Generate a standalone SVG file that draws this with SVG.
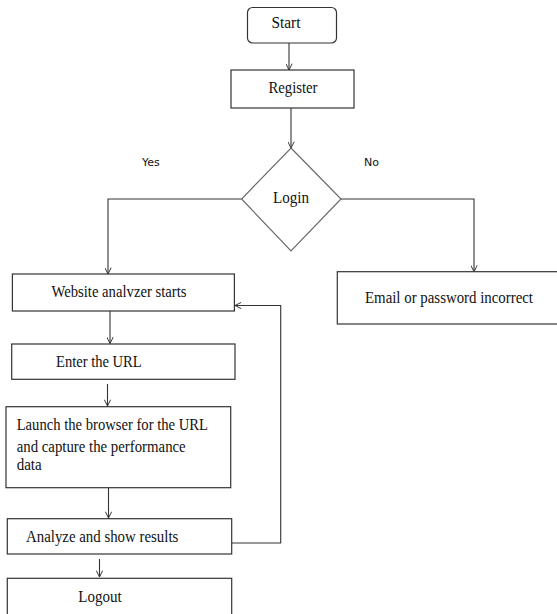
<svg xmlns="http://www.w3.org/2000/svg" width="557" height="614" viewBox="0 0 557 614">
<defs>
<marker id="vee" viewBox="0 0 10 10" refX="10" refY="5" markerWidth="7" markerHeight="7" markerUnits="userSpaceOnUse" orient="auto">
<path d="M1,0.5 L10,5 L1,9.5" fill="none" stroke="#333" stroke-width="1.4"/>
</marker>
</defs>
<style>
.box{fill:#fff;stroke:#333;stroke-width:1.2}
.dia{fill:#fff;stroke:#6a6a6a;stroke-width:1.2}
.t{font-family:'Liberation Serif','Times New Roman','DejaVu Serif',serif;font-size:16px;fill:#111}
.lab{font-family:'DejaVu Sans',Verdana,sans-serif;font-size:11px;fill:#111}
.ca{fill:none;stroke:#333;stroke-width:1.1;marker-end:url(#vee)}
</style>
<rect width="557" height="614" fill="#fff"/>
<g id="connectors">
<path class="ca" d="M289,43 V70"/>
<path class="ca" d="M291,108 V148"/>
<path class="ca" d="M241.6,199 H108 V274"/>
<path class="ca" d="M341,199 H474 V271.7"/>
<path class="ca" d="M110,311 V343.5"/>
<path class="ca" d="M107.5,384 V406"/>
<path class="ca" d="M108.5,488 V518"/>
<path class="ca" d="M99.5,559 V577"/>
<path class="ca" d="M232,543 H280.7 V305.5 H235"/>
<text class="lab" x="142" y="166">Yes</text>
<text class="lab" x="364" y="166">No</text>
</g>
<g id="start">
<rect class="box" x="247.5" y="7.5" width="89" height="35.5" rx="5"/>
<text class="t" font-family="Liberation Serif, serif" x="286" y="28" text-anchor="middle" textLength="29" lengthAdjust="spacingAndGlyphs">Start</text>
</g>
<g id="register">
<rect class="box" x="231" y="70" width="123" height="38"/>
<text class="t" x="293" y="93" text-anchor="middle" textLength="49" lengthAdjust="spacingAndGlyphs">Register</text>
</g>
<g id="login">
<polygon class="dia" points="291,148 341,199 291,251 241.6,199"/>
<text class="t" x="291" y="203" text-anchor="middle" textLength="36" lengthAdjust="spacingAndGlyphs">Login</text>
</g>
<g id="website">
<rect class="box" x="12.4" y="274" width="222" height="37"/>
<text class="t" x="51.5" y="297" textLength="135" lengthAdjust="spacingAndGlyphs">Website analvzer starts</text>
</g>
<g id="email">
<rect class="box" x="337.3" y="271.7" width="222" height="52.3"/>
<text class="t" x="365" y="303.3" textLength="168" lengthAdjust="spacingAndGlyphs">Email or password incorrect</text>
</g>
<g id="enter">
<rect class="box" x="11.7" y="344" width="223.3" height="35.3"/>
<text class="t" x="56" y="367.3" textLength="85.7" lengthAdjust="spacingAndGlyphs">Enter the URL</text>
</g>
<g id="launch">
<rect class="box" x="6" y="406.7" width="224.7" height="81"/>
<text class="t" x="16.7" y="430" textLength="191.3" lengthAdjust="spacingAndGlyphs">Launch the browser for the URL</text>
<text class="t" x="16.7" y="451.7" textLength="169" lengthAdjust="spacingAndGlyphs">and capture the performance</text>
<text class="t" x="16.7" y="470" textLength="25" lengthAdjust="spacingAndGlyphs">data</text>
</g>
<g id="analyze">
<rect class="box" x="7.3" y="518.7" width="224.4" height="35.3"/>
<text class="t" x="26" y="542.3" textLength="152.3" lengthAdjust="spacingAndGlyphs">Analyze and show results</text>
</g>
<g id="logout">
<rect class="box" x="7.3" y="578.3" width="224.4" height="40"/>
<text class="t" x="78.3" y="601.7" textLength="43.4" lengthAdjust="spacingAndGlyphs">Logout</text>
</g>
</svg>
